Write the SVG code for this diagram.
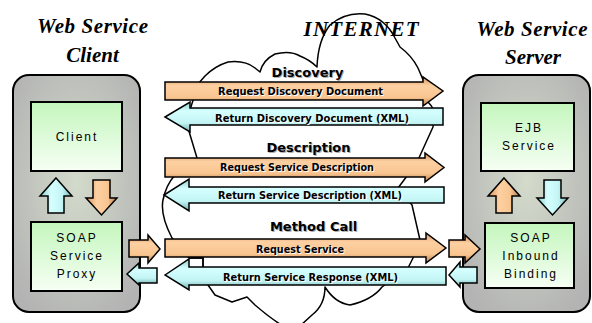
<svg xmlns="http://www.w3.org/2000/svg" width="592" height="323" viewBox="0 0 592 323">
<defs>
<radialGradient id="gPanel" cx="0.5" cy="0.45" r="0.65">
<stop offset="0" stop-color="#d3dbcb"/>
<stop offset="1" stop-color="#b3b3b3"/>
</radialGradient>
<linearGradient id="gBox" x1="0" y1="0" x2="0" y2="1">
<stop offset="0" stop-color="#c4f6bd"/>
<stop offset="1" stop-color="#f6fff4"/>
</linearGradient>
<linearGradient id="gOrH" x1="0" y1="0" x2="0" y2="1">
<stop offset="0" stop-color="#d9935f"/>
<stop offset="0.3" stop-color="#fdd0a2"/>
<stop offset="0.7" stop-color="#f8c590"/>
<stop offset="1" stop-color="#b97c4c"/>
</linearGradient>
<linearGradient id="gCyH" x1="0" y1="0" x2="0" y2="1">
<stop offset="0" stop-color="#86cccc"/>
<stop offset="0.3" stop-color="#d6ffff"/>
<stop offset="0.7" stop-color="#c2f4f4"/>
<stop offset="1" stop-color="#6faeae"/>
</linearGradient>
<linearGradient id="gOrV" x1="0" y1="0" x2="1" y2="0">
<stop offset="0" stop-color="#d9935f"/>
<stop offset="0.35" stop-color="#fdd0a2"/>
<stop offset="0.7" stop-color="#f8c590"/>
<stop offset="1" stop-color="#b97c4c"/>
</linearGradient>
<linearGradient id="gCyV" x1="0" y1="0" x2="1" y2="0">
<stop offset="0" stop-color="#86cccc"/>
<stop offset="0.35" stop-color="#d6ffff"/>
<stop offset="0.7" stop-color="#c2f4f4"/>
<stop offset="1" stop-color="#6faeae"/>
</linearGradient>
</defs>
<style>
.panel{fill:url(#gPanel);stroke:#000;stroke-width:2}
.box{fill:url(#gBox);stroke:#000;stroke-width:2}
.or{fill:url(#gOrH);stroke:#000;stroke-width:1.5;stroke-linejoin:miter}
.cy{fill:url(#gCyH);stroke:#000;stroke-width:1.5;stroke-linejoin:miter}
.orv{fill:url(#gOrV);stroke:#000;stroke-width:1.5}
.cyv{fill:url(#gCyV);stroke:#000;stroke-width:1.5}
.title{font-family:"Liberation Serif",serif;font-weight:bold;font-style:italic;font-size:21px;fill:#000;text-anchor:middle}
.lbl{font-family:"DejaVu Sans",sans-serif;font-weight:bold;font-size:13px;text-anchor:middle}
.at{font-family:"DejaVu Sans",sans-serif;font-weight:bold;font-size:11px;text-anchor:middle}
.bt{font-family:"Liberation Sans",Arial,sans-serif;font-size:12px;letter-spacing:2px;text-anchor:middle;fill:#000}
.cloud{fill:#fff;stroke:#000;stroke-width:1.5;stroke-linejoin:round}
</style>

<g id="cloud">
<path class="cloud" d="M198,84 L205,76 Q215,66 228,62 Q245,60 255,68 L260,72 Q263,60 275,54 Q290,50 300,56 Q310,60 317,67 Q318,40 330,25 Q345,12 365,14 Q385,18 395,38 L400,47 Q412,56 418,68 L424,82 L428,102 Q436,110 434,118 L433,127 L418,160 L410,172 L398,188 L412,205 L420,240 L413,258 L408,268 L382,287 Q372,300 350,305 Q335,303 325,287 Q325,305 312,315 L300,326 L283,326 Q270,318 255,305 L247,297 L232,302 L215,295 L208,285 L203,267 L203,258 L189,258 L172,238 Q160,215 163,200 Q166,185 175,175 L197,158 L188,128 L190,110 Z"/>
</g>

<g id="titles">
<text class="title" x="92.5" y="33" textLength="111" lengthAdjust="spacing">Web Service</text>
<text class="title" x="92.5" y="62">Client</text>
<text class="title" x="532" y="36" textLength="111" lengthAdjust="spacing">Web Service</text>
<text class="title" x="533" y="64">Server</text>
<text class="title" x="361" y="36" textLength="115" lengthAdjust="spacing">INTERNET</text>
</g>

<g id="client-side">
<rect class="panel" x="13" y="75" width="127" height="237" rx="16"/>
</g>
<g id="server-side">
<rect class="panel" x="463" y="75" width="127" height="237" rx="16"/>
</g>

<g id="client">
<rect class="box" x="31" y="102" width="91" height="69"/>
<text class="bt" x="77" y="141">Client</text>
</g>
<g id="soap-proxy">
<rect class="box" x="31" y="222" width="91" height="69"/>
<text class="bt" x="77" y="242">SOAP</text>
<text class="bt" x="77" y="260">Service</text>
<text class="bt" x="77" y="278">Proxy</text>
</g>
<g id="ejb-service">
<rect class="box" x="481" y="103" width="93" height="68"/>
<text class="bt" x="529" y="132">EJB</text>
<text class="bt" x="529" y="150">Service</text>
</g>
<g id="soap-binding">
<rect class="box" x="485" y="223" width="89" height="65"/>
<text class="bt" x="531" y="242">SOAP</text>
<text class="bt" x="531" y="260">Inbound</text>
<text class="bt" x="531" y="278">Binding</text>
</g>

<g id="connectors">
<polygon class="cyv" points="56,178 72,196 64,196 64,213 48,213 48,196 40,196"/>
<polygon class="orv" points="93,180 110,180 110,198 117,198 101.5,215 86,198 93,198"/>
<polygon class="orv" points="504,178 520,196 512,196 512,213 496,213 496,196 488,196"/>
<polygon class="cyv" points="544,180 561,180 561,198 568,198 552.5,215 537,198 544,198"/>
<polygon class="or" points="129,240 148,240 148,235 160,249 148,263 148,257 129,257"/>
<polygon class="cy" points="127,274 139,263 139,268 157,268 157,283 139,283 139,285"/>
<polygon class="or" points="449,240 465,240 465,235 480,249 465,263 465,257 449,257"/>
<polygon class="cy" points="449,275 460,262 460,267 477,267 477,283 460,283 460,287"/>
<polygon class="or" points="165,82 423,82 423,77 443,91 423,106 423,100 165,100"/>
<polygon class="cy" points="165,117 190,102 190,108 443,108 443,125 190,125 190,132"/>
<polygon class="or" points="165,158 425,158 425,153 444,167.5 425,182 425,177 165,177"/>
<polygon class="cy" points="164,195 189,179 189,187 444,187 444,203 189,203 189,211"/>
<polygon class="or" points="165,239 426,239 426,233 446,248 426,263 426,257 165,257"/>
<polygon class="cy" points="165,275 189,259 189,267 446,267 446,285 189,285 189,290"/>
<polyline fill="none" stroke="#000" stroke-width="1.5" points="189,258 203,258 203,267"/>
</g>

<g id="labels">
<text class="lbl" x="308.5" y="78" fill="#b0b0b0">Discovery</text>
<text class="lbl" x="307.5" y="77" fill="#000">Discovery</text>
<text class="lbl" x="309.5" y="153" fill="#b0b0b0">Description</text>
<text class="lbl" x="308.5" y="152" fill="#000">Description</text>
<text class="lbl" x="314.5" y="232" fill="#b0b0b0">Method Call</text>
<text class="lbl" x="313.5" y="231" fill="#000">Method Call</text>

<text class="at" x="301.5" y="96" fill="#fff" textLength="165" lengthAdjust="spacingAndGlyphs">Request Discovery Document</text>
<text class="at" x="300.5" y="95" fill="#000" textLength="165" lengthAdjust="spacingAndGlyphs">Request Discovery Document</text>
<text class="at" x="313" y="122.5" fill="#fff" textLength="194" lengthAdjust="spacingAndGlyphs">Return Discovery Document (XML)</text>
<text class="at" x="312" y="121.5" fill="#000" textLength="194" lengthAdjust="spacingAndGlyphs">Return Discovery Document (XML)</text>
<text class="at" x="298" y="172" fill="#fff" textLength="154" lengthAdjust="spacingAndGlyphs">Request Service Description</text>
<text class="at" x="297" y="171" fill="#000" textLength="154" lengthAdjust="spacingAndGlyphs">Request Service Description</text>
<text class="at" x="311" y="200" fill="#fff" textLength="184" lengthAdjust="spacingAndGlyphs">Return Service Description (XML)</text>
<text class="at" x="310" y="199" fill="#000" textLength="184" lengthAdjust="spacingAndGlyphs">Return Service Description (XML)</text>
<text class="at" x="301" y="254" fill="#fff" textLength="88" lengthAdjust="spacingAndGlyphs">Request Service</text>
<text class="at" x="300" y="253" fill="#000" textLength="88" lengthAdjust="spacingAndGlyphs">Request Service</text>
<text class="at" x="311.5" y="282" fill="#fff" textLength="175" lengthAdjust="spacingAndGlyphs">Return Service Response (XML)</text>
<text class="at" x="310.5" y="281" fill="#000" textLength="175" lengthAdjust="spacingAndGlyphs">Return Service Response (XML)</text>
</g>
</svg>
